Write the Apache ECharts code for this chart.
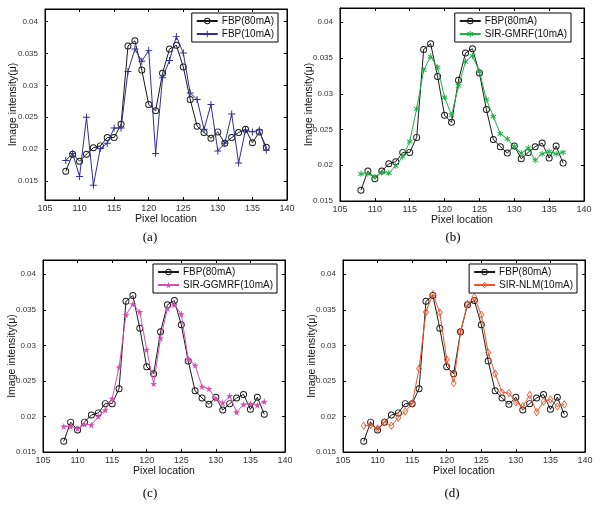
<!DOCTYPE html>
<html><head><meta charset="utf-8">
<script src="https://cdn.jsdelivr.net/npm/echarts@6/dist/echarts.min.js"></script>
<style>html,body{margin:0;padding:0;background:#fff}#c{width:602px;height:509px}</style>
</head><body><div id="c"></div>
<script>
const pixelLocation = [108,109,110,111,112,113,114,115,116,117,118,119,120,121,122,123,124,125,126,127,128,129,130,131,132,133,134,135,136,137];
const fbp80mA = [0.0165,0.0192,0.0181,0.0192,0.0202,0.0205,0.0218,0.0218,0.0239,0.0362,0.0370,0.0324,0.0270,0.0260,0.0319,0.0357,0.0363,0.0329,0.0278,0.0236,0.0226,0.0217,0.0227,0.0209,0.0218,0.0226,0.0231,0.0210,0.0227,0.0203];
const fbp10mA = [0.0182,0.0193,0.0157,0.0250,0.0143,0.0201,0.0209,0.0233,0.0233,0.0322,0.0357,0.0338,0.0355,0.0193,0.0312,0.0339,0.0377,0.0351,0.0288,0.0278,0.0231,0.0270,0.0197,0.0209,0.0255,0.0178,0.0230,0.0227,0.0230,0.0198];
const sirGMRF10mA = [0.0188,0.0188,0.0184,0.0190,0.0189,0.0199,0.0212,0.0233,0.0279,0.0333,0.0352,0.0337,0.0295,0.0270,0.0311,0.0345,0.0353,0.0331,0.0292,0.0268,0.0244,0.0237,0.0226,0.0217,0.0224,0.0207,0.0216,0.0219,0.0216,0.0218];
const sirGGMRF10mA = [0.0186,0.0186,0.0183,0.0189,0.0188,0.0200,0.0209,0.0225,0.0269,0.0343,0.0358,0.0347,0.0294,0.0246,0.0310,0.0352,0.0357,0.0344,0.0281,0.0272,0.0242,0.0239,0.0225,0.0219,0.0229,0.0206,0.0217,0.0218,0.0216,0.0221];
const sirNLM10mA = [0.0187,0.0188,0.0183,0.0192,0.0187,0.0198,0.0207,0.0218,0.0267,0.0347,0.0372,0.0346,0.0280,0.0247,0.0319,0.0358,0.0368,0.0343,0.0290,0.0260,0.0234,0.0233,0.0220,0.0214,0.0230,0.0206,0.0221,0.0224,0.0214,0.0217];
const xTicks = [105,110,115,120,125,130,135,140];
const yTicks = [0.015,0.02,0.025,0.03,0.035,0.04];
const captions = ['(a)','(b)','(c)','(d)'];

const RING = 'path://M5,0A5,5 0 1,1 5,10A5,5 0 1,1 5,0ZM5,1.4A3.6,3.6 0 1,0 5,8.6A3.6,3.6 0 1,0 5,1.4Z';
const HDIAMOND = 'path://M5,0L10,5L5,10L0,5ZM5,1.6L1.6,5L5,8.4L8.4,5Z';
const PLUS = 'path://M4.3,0H5.7V4.3H10V5.7H5.7V10H4.3V5.7H0V4.3H4.3Z';
const ASTER = 'path://M4.3,0H5.7V3.6L8.7,1.5L9.5,2.7L6.6,5L9.5,7.3L8.7,8.5L5.7,6.4V10H4.3V6.4L1.3,8.5L0.5,7.3L3.4,5L0.5,2.7L1.3,1.5L4.3,3.6Z';
const STAR = 'path://M50,0L61,35L98,35L68,57L79,91L50,70L21,91L32,57L2,35L39,35Z';

const panels = [
  {grid:{left:45,top:9,width:242,height:191}, ymin:0.012, ymax:0.042, yNameGap:26,
   legend:{right:324,top:13}, cap:[150,238],
   other:{name:'FBP(10mA)', data:fbp10mA, color:'#2e2e96', symbol:PLUS, size:7}},
  {grid:{left:340,top:8,width:244,height:193}, ymin:0.015, ymax:0.042, yNameGap:25,
   legend:{right:31,top:13}, cap:[453,238],
   other:{name:'SIR-GMRF(10mA)', data:sirGMRF10mA, color:'#1fae48', symbol:ASTER, size:6}},
  {grid:{left:43,top:260,width:242,height:192}, ymin:0.015, ymax:0.042, yNameGap:25,
   legend:{right:325,top:264}, cap:[150,494],
   other:{name:'SIR-GGMRF(10mA)', data:sirGGMRF10mA, color:'#d64fae', symbol:STAR, size:7}},
  {grid:{left:343,top:260,width:242,height:192}, ymin:0.015, ymax:0.042, yNameGap:25,
   legend:{right:25,top:264}, cap:[452,494],
   other:{name:'SIR-NLM(10mA)', data:sirNLM10mA, color:'#f0542a', symbol:HDIAMOND, size:[6,8.5]}}
];

const FONT = 'Liberation Sans';
const fmt = v => String(+(+v).toFixed(3));
const grid = [], xAxis = [], yAxis = [], series = [], legend = [], graphic = [];

panels.forEach((p, i) => {
  grid.push(Object.assign({show:true, borderColor:'#000', borderWidth:1, containLabel:false}, p.grid));
  [['bottom',true],['top',false]].forEach(([pos, lab]) => {
    xAxis.push({type:'value', gridIndex:i, position:pos, min:105, max:140, interval:5,
      axisLine:{show:true, onZero:false, lineStyle:{color:'#000', width:1}},
      axisTick:{show:true, inside:true, length:3, lineStyle:{color:'#000', width:1}},
      axisLabel:{show:lab, fontSize:9, color:'#333', margin:4, fontFamily:FONT, formatter:v=>String(v)},
      splitLine:{show:false},
      name: lab ? 'Pixel location' : '', nameLocation:'middle', nameGap:14, nameMoveOverlap:false,
      nameTextStyle:{fontSize:10.5, color:'#111', fontFamily:FONT}});
  });
  [['left',true],['right',false]].forEach(([pos, lab]) => {
    yAxis.push({type:'value', gridIndex:i, position:pos, min:p.ymin, max:p.ymax,
      axisLine:{show:true, onZero:false, lineStyle:{color:'#000', width:1}},
      axisTick:{show:true, inside:true, length:3, customValues:yTicks, lineStyle:{color:'#000', width:1}},
      axisLabel:{show:lab, fontSize:8, color:'#333', margin:7, fontFamily:FONT, customValues:yTicks, formatter:fmt},
      splitLine:{show:false},
      name: lab ? 'Image intensity(μ)' : '', nameLocation:'middle', nameGap:p.yNameGap, nameRotate:90, nameMoveOverlap:false,
      nameTextStyle:{fontSize:10.5, color:'#111', fontFamily:FONT}});
  });
  series.push({type:'line', name:'FBP(80mA)', xAxisIndex:2*i, yAxisIndex:2*i,
    data: pixelLocation.map((x,k)=>[x, fbp80mA[k]]),
    symbol:RING, symbolSize:7, showSymbol:true,
    lineStyle:{color:'#1a1a1a', width:1}, itemStyle:{color:'#1a1a1a', borderWidth:0},
    z:2});
  const o = p.other;
  series.push({type:'line', name:o.name, xAxisIndex:2*i, yAxisIndex:2*i,
    data: pixelLocation.map((x,k)=>[x, o.data[k]]),
    symbol:o.symbol, symbolSize:o.size, showSymbol:true,
    lineStyle:{color:o.color, width:1},
    itemStyle:{color:o.color, borderWidth:0},
    z:3});
  legend.push({orient:'vertical', right:p.legend.right, top:p.legend.top,
    data:['FBP(80mA)', o.name], backgroundColor:'#fff', borderColor:'#000', borderWidth:1,
    padding:[3,4,3,4], itemGap:3, itemWidth:21, itemHeight:8, selectedMode:false,
    textStyle:{fontSize:10, color:'#111', fontFamily:FONT, padding:[0,0,0,-1]}});
  graphic.push({type:'text', x:p.cap[0], y:p.cap[1],
    style:{text:captions[i], fill:'#000', font:'13px "Liberation Serif"', align:'center', verticalAlign:'middle'}});
});

const chart = echarts.init(document.getElementById('c'), null, {renderer:'canvas'});
chart.setOption({animation:false, backgroundColor:'#fff', grid, xAxis, yAxis, series, legend, graphic});
</script></body></html>
